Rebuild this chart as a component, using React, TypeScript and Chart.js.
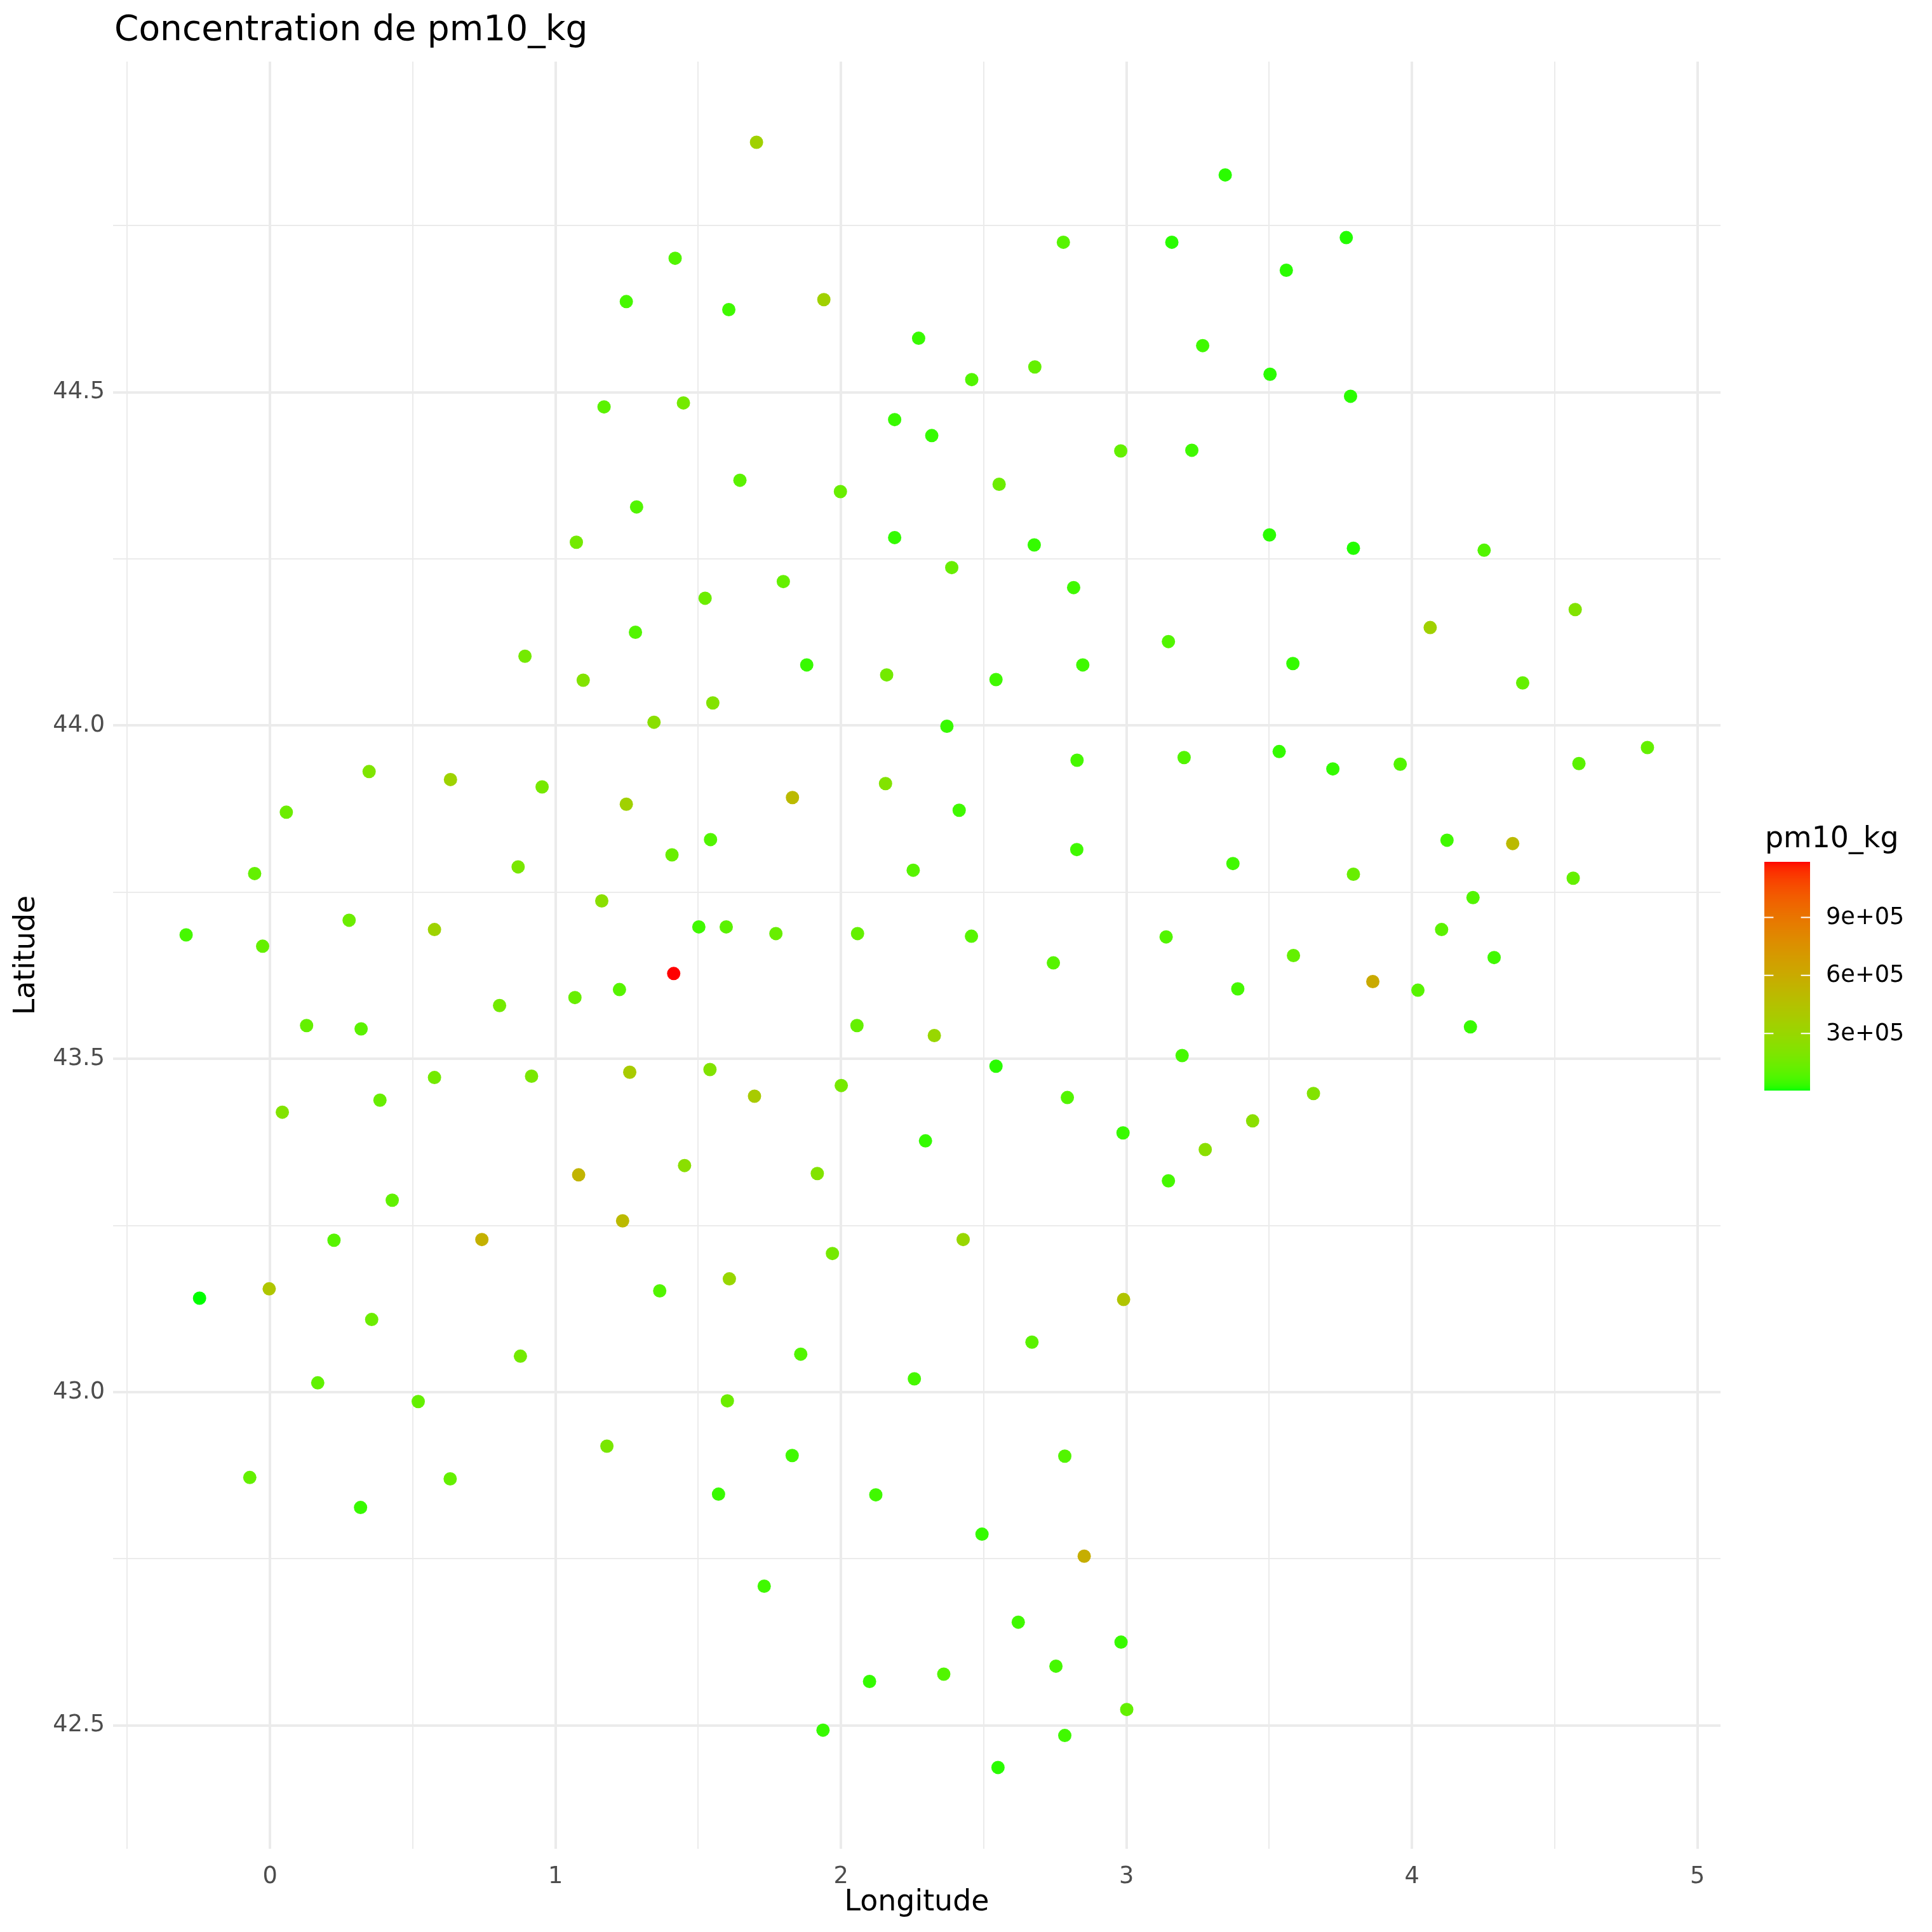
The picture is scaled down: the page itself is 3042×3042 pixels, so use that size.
import React, { useEffect, useRef } from "react";
import { Chart, registerables } from "chart.js";

Chart.register(...registerables);

// ---------- data ----------
const longitude = [
  1.704, 3.346, 2.779, 3.159, 3.770, 1.419, 3.560, 1.248, 1.940, 1.607,
  2.272, 3.267, 2.679, 2.458, 3.503, 3.785, 1.170, 1.448, 2.188, 2.318,
  2.980, 3.229, 1.646, 1.998, 2.554, 1.284, 1.073, 2.188, 2.677, 3.501,
  3.795, 4.253, 2.388, 1.798, 2.815, 1.524, 4.572, 4.064, 1.280, 3.147,
  0.893, 1.880, 2.847, 3.583, 2.160, 1.097, 2.543, 4.388, 1.551, 1.345,
  2.371, 4.825, 3.535, 3.202, 2.827, 3.959, 4.585, 3.723, 0.347, 0.632,
  0.953, 2.156, 1.830, 1.248, 0.057, 2.414, 4.123, 1.543, 4.353, 2.826,
  1.408, 3.373, 0.869, 2.253, -0.054, 3.795, 4.565, 4.214, 1.162, 0.277,
  1.502, 1.598, 0.576, 4.104, -0.294, 1.772, 2.058, 2.457, 3.139, -0.026,
  4.288, 3.585, 2.744, 1.414, 3.863, 3.390, 4.021, 1.224, 1.068, 0.804,
  0.128, 0.319, 4.205, 2.056, 2.327, 3.195, 2.543, 1.541, 1.260, 0.916,
  0.576, 2.001, 3.655, 1.697, 2.793, 0.385, 0.043, 3.442, 2.988, 2.296,
  3.276, 1.452, 1.917, 1.081, 3.147, 0.428, 1.235, 0.742, 0.224, 2.428,
  1.970, 1.609, -0.003, 1.365, -0.247, 2.990, 0.356, 2.669, 0.877, 1.859,
  2.257, 0.167, 0.519, 1.602, 1.180, 1.829, 2.784, -0.071, 0.631, 0.317,
  1.571, 2.122, 2.494, 2.852, 1.731, 2.621, 2.981, 2.753, 2.360, 2.100,
  3.001, 1.937, 2.784, 2.550,
];

const latitude = [
  44.875, 44.826, 44.725, 44.725, 44.732, 44.701, 44.683, 44.636, 44.639, 44.624,
  44.581, 44.570, 44.538, 44.519, 44.527, 44.494, 44.478, 44.484, 44.459, 44.435,
  44.412, 44.413, 44.368, 44.351, 44.362, 44.328, 44.275, 44.282, 44.271, 44.286,
  44.266, 44.263, 44.237, 44.216, 44.207, 44.191, 44.174, 44.147, 44.140, 44.126,
  44.104, 44.091, 44.091, 44.093, 44.076, 44.068, 44.069, 44.064, 44.034, 44.005,
  43.999, 43.967, 43.961, 43.952, 43.948, 43.942, 43.943, 43.935, 43.931, 43.919,
  43.908, 43.913, 43.892, 43.882, 43.870, 43.873, 43.828, 43.829, 43.823, 43.814,
  43.806, 43.793, 43.788, 43.783, 43.778, 43.777, 43.771, 43.742, 43.737, 43.708,
  43.698, 43.698, 43.694, 43.694, 43.686, 43.688, 43.688, 43.684, 43.683, 43.669,
  43.652, 43.655, 43.644, 43.628, 43.616, 43.605, 43.603, 43.604, 43.592, 43.580,
  43.550, 43.545, 43.548, 43.550, 43.535, 43.505, 43.489, 43.484, 43.480, 43.474,
  43.472, 43.460, 43.448, 43.444, 43.442, 43.438, 43.420, 43.407, 43.389, 43.377,
  43.364, 43.340, 43.328, 43.326, 43.317, 43.288, 43.257, 43.229, 43.228, 43.229,
  43.208, 43.170, 43.155, 43.152, 43.141, 43.139, 43.109, 43.075, 43.054, 43.057,
  43.020, 43.014, 42.986, 42.987, 42.919, 42.905, 42.904, 42.872, 42.870, 42.827,
  42.847, 42.846, 42.787, 42.754, 42.709, 42.655, 42.625, 42.589, 42.577, 42.566,
  42.524, 42.493, 42.485, 42.437,
];

const pm10_kg = [
  340000, 25000, 90000, 25000, 20000, 80000, 25000, 60000, 340000, 50000,
  40000, 50000, 120000, 80000, 25000, 25000, 100000, 165000, 40000, 35000,
  120000, 50000, 100000, 130000, 140000, 80000, 160000, 35000, 35000, 25000,
  20000, 80000, 130000, 120000, 50000, 140000, 210000, 340000, 80000, 80000,
  165000, 40000, 50000, 35000, 160000, 210000, 50000, 120000, 210000, 240000,
  40000, 120000, 35000, 80000, 60000, 80000, 100000, 35000, 200000, 330000,
  170000, 210000, 500000, 340000, 140000, 50000, 50000, 80000, 500000, 50000,
  130000, 50000, 180000, 90000, 120000, 130000, 120000, 80000, 240000, 140000,
  50000, 100000, 330000, 100000, 60000, 130000, 120000, 90000, 80000, 120000,
  50000, 120000, 90000, 1187000, 600000, 60000, 90000, 90000, 130000, 160000,
  120000, 100000, 40000, 120000, 300000, 60000, 25000, 210000, 380000, 180000,
  160000, 170000, 210000, 380000, 80000, 130000, 210000, 240000, 40000, 35000,
  240000, 240000, 210000, 540000, 60000, 110000, 500000, 560000, 90000, 300000,
  170000, 300000, 420000, 80000, 5000, 430000, 140000, 100000, 160000, 80000,
  60000, 110000, 120000, 140000, 180000, 50000, 80000, 120000, 120000, 40000,
  40000, 50000, 35000, 580000, 50000, 50000, 40000, 60000, 80000, 35000,
  120000, 40000, 50000, 25000,
];

const legendTicks = [300000, 600000, 900000];
const legendTickLabels = ["3e+05", "6e+05", "9e+05"];

const titleText = "Concentration de pm10_kg";
const xTitle = "Longitude";
const yTitle = "Latitude";
const legendTitle = "pm10_kg";

// ---------- colour scale (CIELAB interpolation, green -> red) ----------
const FONT = '"DejaVu Sans", "Liberation Sans", sans-serif';

function toLin(c: number) {
  const v = c / 255;
  return v <= 0.04045 ? v / 12.92 : Math.pow((v + 0.055) / 1.055, 2.4);
}
function fromLin(c: number) {
  const v = c <= 0.0031308 ? 12.92 * c : 1.055 * Math.pow(Math.max(c, 0), 1 / 2.4) - 0.055;
  return Math.round(Math.max(0, Math.min(1, v)) * 255);
}
const Xn = 0.95047, Yn = 1.0, Zn = 1.08883;
function f(t: number) {
  return t > 216 / 24389 ? Math.cbrt(t) : (t * 24389 / 27 + 16) / 116;
}
function finv(t: number) {
  const t3 = t * t * t;
  return t3 > 216 / 24389 ? t3 : (116 * t - 16) * 27 / 24389;
}
function rgbToLab(rgb: number[]) {
  const r = toLin(rgb[0]), g = toLin(rgb[1]), b = toLin(rgb[2]);
  const X = 0.4124 * r + 0.3576 * g + 0.1805 * b;
  const Y = 0.2126 * r + 0.7152 * g + 0.0722 * b;
  const Z = 0.0193 * r + 0.1192 * g + 0.9505 * b;
  const fx = f(X / Xn), fy = f(Y / Yn), fz = f(Z / Zn);
  return [116 * fy - 16, 500 * (fx - fy), 200 * (fy - fz)];
}
function labToRgb(lab: number[]) {
  const fy = (lab[0] + 16) / 116;
  const fx = fy + lab[1] / 500;
  const fz = fy - lab[2] / 200;
  const X = Xn * finv(fx), Y = Yn * finv(fy), Z = Zn * finv(fz);
  const r = 3.2406 * X - 1.5372 * Y - 0.4986 * Z;
  const g = -0.9689 * X + 1.8758 * Y + 0.0415 * Z;
  const b = 0.0557 * X - 0.204 * Y + 1.057 * Z;
  return [fromLin(r), fromLin(g), fromLin(b)];
}
const LOW_LAB = rgbToLab([0, 255, 0]);
const HIGH_LAB = rgbToLab([255, 0, 0]);
const V_MIN = Math.min(...pm10_kg);
const V_MAX = Math.max(...pm10_kg);
function colourFor(v: number) {
  const t = Math.max(0, Math.min(1, (v - V_MIN) / (V_MAX - V_MIN)));
  const lab = [0, 1, 2].map((i) => LOW_LAB[i] + (HIGH_LAB[i] - LOW_LAB[i]) * t);
  const c = labToRgb(lab);
  return `rgb(${c[0]},${c[1]},${c[2]})`;
}

// ---------- custom drawing: title + colour bar ----------
const decorPlugin = {
  id: "decor",
  afterDraw(chart: any) {
    const ctx = chart.ctx;
    const area = chart.chartArea;
    ctx.save();
    // title
    ctx.fillStyle = "#000000";
    ctx.font = `55px ${FONT}`;
    ctx.textAlign = "left";
    ctx.textBaseline = "alphabetic";
    ctx.fillText(titleText, area.left + 2, 63);

    // colour bar
    const barLeft = area.right + 69;
    const barW = 72;
    const barTop = 1357;
    const barBottom = 1717;
    const barH = barBottom - barTop;
    for (let i = 0; i < barH; i++) {
      const v = V_MIN + ((barH - i - 0.5) / barH) * (V_MAX - V_MIN);
      ctx.fillStyle = colourFor(v);
      ctx.fillRect(barLeft, barTop + i, barW, 1.2);
    }
    // ticks + labels
    ctx.strokeStyle = "#FFFFFF";
    ctx.lineWidth = 2;
    ctx.fillStyle = "#000000";
    ctx.font = `36.7px ${FONT}`;
    ctx.textBaseline = "middle";
    legendTicks.forEach((tv, i) => {
      const y = barBottom - ((tv - V_MIN) / (V_MAX - V_MIN)) * barH;
      ctx.beginPath();
      ctx.moveTo(barLeft, y);
      ctx.lineTo(barLeft + barW / 5, y);
      ctx.moveTo(barLeft + barW - barW / 5, y);
      ctx.lineTo(barLeft + barW, y);
      ctx.stroke();
      ctx.fillText(legendTickLabels[i], barLeft + barW + 25, y + 1);
    });
    // legend title
    ctx.font = `45.8px ${FONT}`;
    ctx.textBaseline = "alphabetic";
    ctx.fillText(legendTitle, barLeft + 1, 1334);
    ctx.restore();
  },
};

const isMultiple = (v: number, step: number) =>
  Math.abs(v / step - Math.round(v / step)) < 1e-6;

export default function App() {
  const ref = useRef<HTMLCanvasElement | null>(null);

  useEffect(() => {
    document.body.style.margin = "0";
    const canvas = ref.current;
    if (!canvas) return;
    const points = longitude.map((x, i) => ({ x, y: latitude[i] }));
    const colours = pm10_kg.map(colourFor);

    const chart = new Chart(canvas, {
      type: "scatter",
      data: {
        datasets: [
          {
            label: "pm10_kg",
            data: points,
            backgroundColor: colours,
            borderWidth: 0,
            pointRadius: 10.5,
            pointHoverRadius: 10.5,
          },
        ],
      },
      options: {
        animation: false,
        responsive: false,
        devicePixelRatio: 1,
        events: [],
        layout: { padding: { left: 0, top: 97, right: 333, bottom: 0 } },
        plugins: {
          legend: { display: false },
          tooltip: { enabled: false },
          title: { display: false },
        },
        scales: {
          x: {
            type: "linear",
            min: -0.55,
            max: 5.081,
            afterFit: (s: any) => {
              s.height = 131;
            },
            border: { display: false },
            grid: {
              color: "#EBEBEB",
              lineWidth: (c: any) => (c.tick && isMultiple(c.tick.value, 1) ? 4 : 2),
              drawTicks: false,
            },
            ticks: {
              stepSize: 0.5,
              includeBounds: false,
              autoSkip: false,
              maxRotation: 0,
              padding: 22,
              color: "#4D4D4D",
              font: { family: FONT, size: 36.7 },
              callback: (v: any) => (isMultiple(Number(v), 1) ? String(Math.round(Number(v))) : ""),
            },
            title: {
              display: true,
              text: xTitle,
              color: "#000000",
              font: { family: FONT, size: 45.8 },
              padding: { top: 0, bottom: 18 },
            },
          },
          y: {
            type: "linear",
            min: 42.315,
            max: 44.996,
            afterFit: (s: any) => {
              s.width = 178;
            },
            border: { display: false },
            grid: {
              color: "#EBEBEB",
              lineWidth: (c: any) => (c.tick && isMultiple(c.tick.value, 0.5) ? 4 : 2),
              drawTicks: false,
            },
            ticks: {
              stepSize: 0.25,
              includeBounds: false,
              autoSkip: false,
              padding: 13,
              color: "#4D4D4D",
              font: { family: FONT, size: 36.7 },
              callback: (v: any) => (isMultiple(Number(v), 0.5) ? Number(v).toFixed(1) : ""),
            },
            title: {
              display: true,
              text: yTitle,
              color: "#000000",
              font: { family: FONT, size: 45.8 },
              padding: { top: 15, bottom: 0 },
            },
          },
        },
      },
      plugins: [decorPlugin],
    } as any);

    return () => {
      chart.destroy();
    };
  }, []);

  return (
    <div style={{ position: "absolute", left: 0, top: 0, width: 3042, height: 3042, background: "#FFFFFF" }}>
      <canvas ref={ref} width={3042} height={3042} style={{ width: 3042, height: 3042, display: "block" }} />
    </div>
  );
}
